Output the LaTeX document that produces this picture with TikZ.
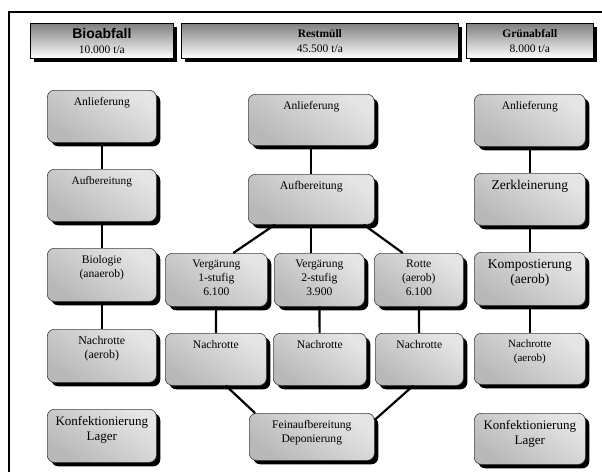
\documentclass[tikz,border=0pt]{standalone}
\usepackage{fontspec}
\setmainfont{Liberation Serif}
\newfontfamily\kopfsans{Liberation Sans}
\usepackage{tikz}
\usetikzlibrary{calc,shadows}
\definecolor{stufehell}{gray}{0.90}
\definecolor{stufedunkel}{gray}{0.72}
\definecolor{kopfgrau}{gray}{0.50}
% Kopfzeile: Name, x1, y1, x2, y2, Titel, Menge
\newcommand{\kopfbox}[7]{%
  \node[kopf,minimum width={(#4-#2)*1pt},minimum height={(#5-#3)*1pt},
    anchor=north west] (#1) at (#2,#3) {#6\\#7};
}
% Prozessstufe: [Schrift], Name, x1, y1, x2, y2, Text
\newcommand{\stufe}[7][]{%
  \node[stufe,minimum width={(#5-#3)*1pt},minimum height={(#6-#4)*1pt},
    anchor=north west] (#2) at (#3,#4) {};
  \node[stufetext,#1,anchor=north] (#2-t) at ([yshift=-5pt]#2.north) {#7};
}

\begin{document}
\begin{tikzpicture}[x=1pt,y=-1pt,
    kopf/.style={draw=black,line width=.7pt,top color=kopfgrau,bottom color=white,
      drop shadow={shadow xshift=4pt,shadow yshift=-4pt,opacity=1,fill=black},
      align=center,inner sep=0pt,font=\fontsize{11.5}{14.5}\selectfont},
    stufe/.style={draw=black!75,line width=.6pt,rounded corners=7pt,
      top color=stufehell,bottom color=stufedunkel,shading angle=-35,
      drop shadow={shadow xshift=4pt,shadow yshift=-4pt,opacity=1,fill=black},
      inner sep=0pt},
    stufetext/.style={align=center,inner sep=2pt,font=\fontsize{11.6}{14}\selectfont},
    verb/.style={line width=2.2pt}]
  \useasboundingbox (0,0) rectangle (602,471);
  \draw[line width=1.2pt] (9,12) rectangle (608,478);

  % Kopfzeile
  \kopfbox{hbio}{30}{23}{173}{58}{{\kopfsans\bfseries\fontsize{14}{16}\selectfont Bioabfall}}{10.000 t/a}
  \kopfbox{hrest}{181}{23}{458}{58}{\textbf{Restmüll}}{45.500 t/a}
  \kopfbox{hgruen}{466}{23}{593}{58}{\textbf{Grünabfall}}{8.000 t/a}

  % Bioabfall
  \stufe{lanl}{47}{90}{156}{142}{Anlieferung}
  \stufe[font=\fontsize{11.3}{14}\selectfont]{lauf}{47}{169}{156}{221}{Aufbereitung}
  \stufe{lbio}{47}{248}{156}{301}{Biologie\\(anaerob)}
  \stufe[font=\fontsize{11.9}{14}\selectfont]{lnach}{47}{329}{156}{382}{Nachrotte\\(aerob)}
  \stufe[font=\fontsize{13}{15}\selectfont]{lkonf}{47}{409}{156}{462}{Konfektionierung\\Lager}

  % Restmuell
  \stufe{manl}{248}{94}{374}{145}{Anlieferung}
  \stufe[font=\fontsize{11.8}{14}\selectfont]{mauf}{248}{174}{374}{224}{Aufbereitung}
  \stufe{verg1}{165}{253}{267}{306}{Vergärung\\1-stufig\\6.100}
  \stufe{verg2}{274}{253}{364}{306}{Vergärung\\2-stufig\\3.900}
  \stufe{rotte}{374}{253}{463}{306}{Rotte\\(aerob)\\6.100}
  \stufe{nach1}{165}{333}{266}{385}{Nachrotte}
  \stufe{nach2}{273}{333}{366}{385}{Nachrotte}
  \stufe{nach3}{375}{333}{463}{385}{Nachrotte}
  \stufe{fein}{249}{413}{374}{460}{Feinaufbereitung\\Deponierung}

  % Gruenabfall
  \stufe{ranl}{474}{94}{585}{146}{Anlieferung}
  \stufe[font=\fontsize{13.5}{15.5}\selectfont]{rzerk}{474}{173}{585}{225}{Zerkleinerung}
  \stufe[font=\fontsize{13.5}{15.5}\selectfont]{rkomp}{474}{252}{585}{305}{Kompostierung\\(aerob)}
  \stufe[font=\fontsize{11}{13.5}\selectfont]{rnach}{474}{333}{585}{384}{Nachrotte\\(aerob)}
  \stufe[font=\fontsize{13}{15}\selectfont]{rkonf}{474}{413}{585}{464}{Konfektionierung\\Lager}

  % Verbindungen
  \draw[verb] (lanl) -- (lauf);
  \draw[verb] (lauf) -- (lbio);
  \draw[verb] (lbio) -- (lnach);
  \draw[verb] (manl) -- (mauf);
  \draw[verb] ($(mauf.south west)+(27,0)$) -- ($(verg1.north)+(17,0)$);
  \draw[verb] (mauf.south) -- (mauf.south |- verg2.north);
  \draw[verb] ($(mauf.south east)+(-11,0)$) -- ($(rotte.north)+(-16,0)$);
  \draw[verb] (verg1) -- (nach1);
  \draw[verb] (verg2) -- (nach2);
  \draw[verb] (rotte) -- (nach3);
  \draw[verb] ($(nach1.south)+(10,0)$) -- ($(fein.north west)+(6,0)$);
  \draw[verb] ($(nach3.south)+(-6,0)$) -- ($(fein.north east)+(0,7)$);
  \draw[verb] (ranl) -- (rzerk);
  \draw[verb] (rzerk) -- (rkomp);
  \draw[verb] (rkomp) -- (rnach);
\end{tikzpicture}
\end{document}
